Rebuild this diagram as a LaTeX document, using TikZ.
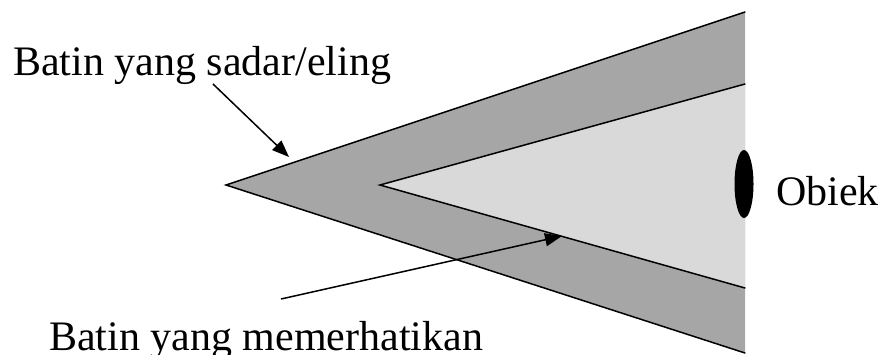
\documentclass[tikz,border=0pt]{standalone}
\usepackage{fontspec}
\setmainfont{Liberation Serif}
\usetikzlibrary{arrows.meta,shapes.geometric}
\tikzset{
  edge/.style={line width=1.5pt, line cap=round},
  pointer/.style={line width=1.5pt, -{Triangle[length=17pt,width=13pt]}},
  label/.style={font=\fontsize{42}{48}\selectfont, inner sep=0pt, anchor=base west},
}
\begin{document}
\begin{tikzpicture}[x=1pt,y=-1pt]
\clip (0,0) rectangle (880,354);
\useasboundingbox (0,0) rectangle (880,354);
% outer triangle
\coordinate (oa) at (226,185);
\coordinate (ot) at (745,12);
\coordinate (ob) at (745,353);
% inner triangle
\coordinate (ia) at (380,185);
\coordinate (it) at (745,84);
\coordinate (ib) at (745,288);
\fill[fill={rgb,255:red,166;green,166;blue,166}] (oa) -- (ot) -- (ob) -- cycle;
\fill[fill={rgb,255:red,217;green,217;blue,217}] (ia) -- (it) -- (ib) -- cycle;
\draw[edge] (ot) -- (oa) -- (ob);
\draw[edge] (it) -- (ia) -- (ib);
% object
\node[ellipse, fill=black, minimum width=19pt, minimum height=68pt, inner sep=0pt] (obj) at (744,184) {};
\node[label] (tobj) at (776,205) {Obiek};
% labels
\node[label] (t1) at (13,75) {Batin yang sadar/eling};
\node[label] (t2) at (49,350) {Batin yang memerhatikan};
% arrows
\coordinate (s1) at (213,84);
\coordinate (e1) at (289,157);
\coordinate (s2) at (281,299);
\coordinate (e2) at (562,236);
\draw[pointer] (s1) -- (e1);
\draw[pointer] (s2) -- (e2);
\end{tikzpicture}
\end{document}
